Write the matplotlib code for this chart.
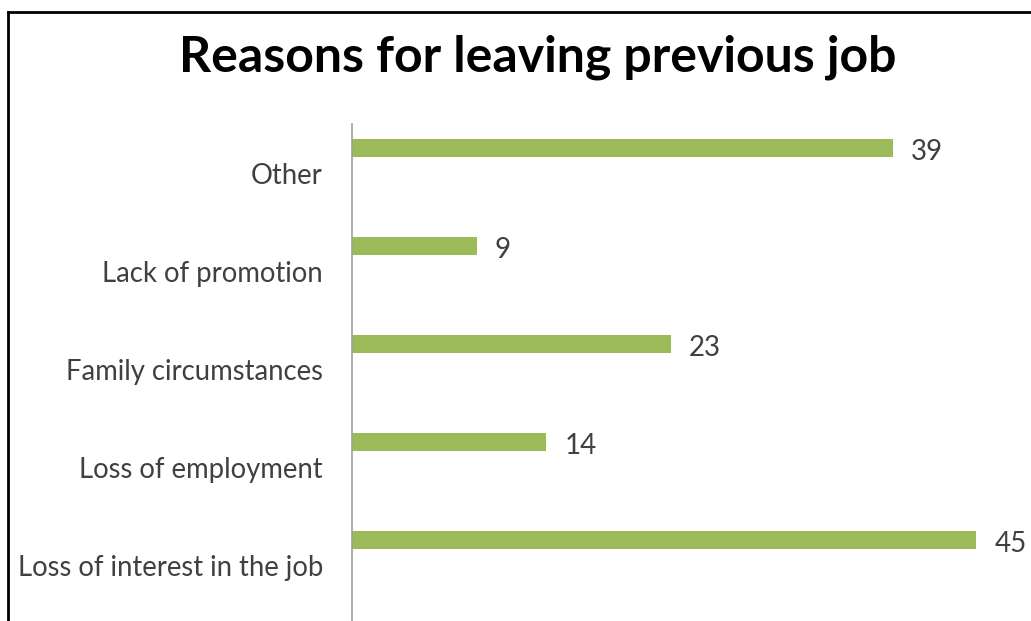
import matplotlib.pyplot as plt
from matplotlib.lines import Line2D

categories = ["Loss of interest in the job", "Loss of employment",
              "Family circumstances", "Lack of promotion", "Other"]
counts = [45, 14, 23, 9, 39]

plt.rcParams['font.family'] = ['Lato', 'DejaVu Sans']

fig = plt.figure(figsize=(10.31, 6.21), dpi=100)
W, H = 1031, 621
ax = fig.add_axes([352 / W, 0, (1018 - 352) / W, (621 - 124) / H])

ypos = list(range(len(categories)))
bar_off = 0.255
ax.barh([y + bar_off for y in ypos], counts, height=0.184, color='#9BBB59', zorder=2)
for y, v in zip(ypos, counts):
    ax.text(v + 1.3, y + bar_off - 0.04, str(v), va='center', ha='left',
            fontsize=20, color='#404040', clip_on=False)

ax.set_xlim(0, 48)
ax.set_ylim(-0.571, 4.5)
ax.set_yticks(ypos)
ax.set_yticklabels(categories, fontsize=19.8, color='#404040')
ax.tick_params(axis='y', length=0, pad=21)
ax.set_xticks([])
for s in ['top', 'right', 'bottom']:
    ax.spines[s].set_visible(False)
ax.spines['left'].set_color('#A0A0A0')
ax.spines['left'].set_linewidth(1.2)

fig.text(538 / W, 1 - 57 / H, "Reasons for leaving previous job", ha='center', va='center',
         fontsize=36, fontweight='bold', color='black')

# outer frame (left and top edges visible)
fig.add_artist(Line2D([8 / W, 8 / W], [0, 1 - 12 / H], transform=fig.transFigure, color='black', lw=2))
fig.add_artist(Line2D([8 / W, 1], [1 - 12 / H, 1 - 12 / H], transform=fig.transFigure, color='black', lw=2))

fig.savefig("out.png", dpi=100)
